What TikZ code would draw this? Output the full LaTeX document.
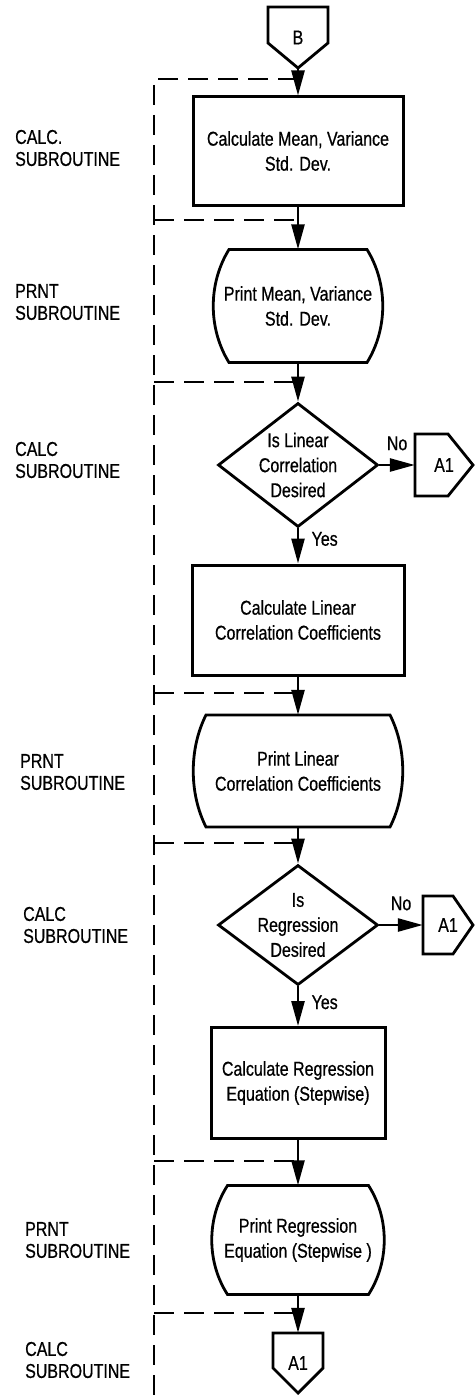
\documentclass[tikz,border=0pt]{standalone}
\usepackage{fontspec}
\setmainfont{Liberation Sans}[FakeStretch=0.8, FakeBold=0.6]
\usetikzlibrary{shapes.geometric,arrows.meta}

\tikzset{
  flow/.style={-{Triangle[length=25pt,width=13pt]}, line width=2.6pt},
  subline/.style={line width=2.6pt, dash pattern=on 20pt off 10pt},
  procbox/.style={draw, line width=3pt, align=center, inner sep=0pt},
  decide/.style={draw, diamond, line width=2.8pt, align=center, inner sep=-8pt, aspect=1.3},
  prntbox/.style n args={3}{align=center, inner sep=0pt, minimum height=2*#2pt,
    append after command={\pgfextra{\draw[line width=2.8pt]
      ([shift={(-#1,-#2)}]\tikzlastnode.center) -- ([shift={(#1,-#2)}]\tikzlastnode.center)
      .. controls +(#3,0.6*#2) and +(#3,-0.6*#2) .. ([shift={(#1,#2)}]\tikzlastnode.center)
      -- ([shift={(-#1,#2)}]\tikzlastnode.center)
      .. controls +(-#3,-0.6*#2) and +(-#3,0.6*#2) .. cycle;}}},
  % off-page connectors: {half width}{half height}{point depth}
  offdown/.style n args={3}{inner sep=0pt, minimum width=2*#1pt, minimum height=2*#2pt,
    append after command={\pgfextra{\draw[line width=2.8pt, line join=miter]
      ([shift={(-#1,-#2)}]\tikzlastnode.center) -- ([shift={(#1,-#2)}]\tikzlastnode.center)
      -- ([shift={(#1,#2-#3)}]\tikzlastnode.center) -- ([shift={(0,#2)}]\tikzlastnode.center)
      -- ([shift={(-#1,#2-#3)}]\tikzlastnode.center) -- cycle;}}},
  offright/.style n args={3}{inner sep=0pt, minimum width=2*#1pt, minimum height=2*#2pt,
    append after command={\pgfextra{\draw[line width=2.8pt, line join=miter]
      ([shift={(-#1,-#2)}]\tikzlastnode.center) -- ([shift={(#1-#3,-#2)}]\tikzlastnode.center)
      -- ([shift={(#1,0)}]\tikzlastnode.center) -- ([shift={(#1-#3,#2)}]\tikzlastnode.center)
      -- ([shift={(-#1,#2)}]\tikzlastnode.center) -- cycle;}}},
  sublabel/.style={anchor=west, align=left, inner sep=0pt, font=\fontsize{20}{22}\selectfont}
}

\begin{document}
\begin{tikzpicture}[x=1pt, y=-1pt, font=\fontsize{20}{25}\selectfont]
\useasboundingbox (0,0) rectangle (474,1399);

% 1. subroutine brackets (dashed)
\draw[subline] (298,79) -| (154,1399);
\foreach \y in {220,382,693,843,1161,1313}
  \draw[subline] (154,\y) -- (298,\y);

% 2. subroutine labels
\node[sublabel] (lab1) at (15,148) {CALC.\\SUBROUTINE};
\node[sublabel] (lab2) at (15,302) {PRNT\\SUBROUTINE};
\node[sublabel] (lab3) at (15,460) {CALC\\SUBROUTINE};
\node[sublabel] (lab4) at (20,772) {PRNT\\SUBROUTINE};
\node[sublabel] (lab5) at (23,925) {CALC\\SUBROUTINE};
\node[sublabel] (lab6) at (25,1240) {PRNT\\SUBROUTINE};
\node[sublabel] (lab7) at (25,1360) {CALC\\SUBROUTINE};

% 3. flowchart nodes
\node[offdown={30}{30.5}{25}] (B) at (298,37.5) {B};
\node[procbox, minimum width=210pt, minimum height=108pt] (calc1) at (298,151) {Calculate Mean, Variance\\Std. Dev.};
\node[prntbox={69}{56.5}{21}] (prnt1) at (298,306) {Print Mean, Variance\\Std. Dev.};
\node[decide, minimum width=160pt, minimum height=124pt] (dec1) at (298,465) {Is Linear\\Correlation\\Desired};
\node[offright={29}{31}{25}] (exit1) at (444,465) {A1};
\node[procbox, minimum width=212pt, minimum height=110pt] (calc2) at (298,620) {Calculate Linear\\Correlation Coefficients};
\node[prntbox={92}{56}{17}] (prnt2) at (298,771) {Print Linear\\Correlation Coefficients};
\node[decide, minimum width=160pt, minimum height=120pt] (dec2) at (298,925) {Is\\Regression\\Desired};
\node[offright={25}{29}{20}] (exit2) at (448,925) {A1};
\node[procbox, minimum width=174pt, minimum height=111pt] (calc3) at (298,1083) {Calculate Regression\\Equation (Stepwise)};
\node[prntbox={70.5}{54.5}{21}] (prnt3) at (298,1240) {Print Regression\\Equation (Stepwise )};
\node[offdown={25}{30}{25}] (A1) at (298,1363) {A1};

% 4. flow lines
\draw[flow] (B) -- (calc1);
\draw[flow] (calc1) -- (prnt1);
\draw[flow] (prnt1) -- (dec1);
\draw[flow] (dec1) -- node[above=10pt] {No} (exit1);
\draw[flow] (dec1) -- node[right=9pt, pos=0.3] {Yes} (calc2);
\draw[flow] (calc2) -- (prnt2);
\draw[flow] (prnt2) -- (dec2);
\draw[flow] (dec2) -- node[above=10pt] {No} (exit2);
\draw[flow] (dec2) -- node[right=9pt, pos=0.4] {Yes} (calc3);
\draw[flow] (calc3) -- (prnt3);
\draw[flow] (prnt3) -- (A1);
\end{tikzpicture}
\end{document}
